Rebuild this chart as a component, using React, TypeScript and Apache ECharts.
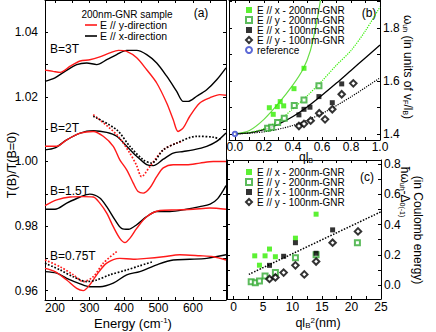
import React, { useEffect, useRef } from 'react';
import * as echarts from 'echarts';

const FONT = 'Liberation Sans, Arial, Helvetica, sans-serif';

// Panel (a): T(B)/T(B=0) spectra, [energy cm^-1, ratio]
const red3T = [[171,1.0283],[195,1.0279],[215,1.0276],[244,1.0295],[273,1.0311],[301,1.0315],[330,1.0324],[359,1.0336],[384,1.0344],[408,1.0341],[437,1.0321],[466,1.0284],[495,1.0243],[524,1.0181],[543,1.0129],[557,1.0093],[572,1.0104],[591,1.0140],[620,1.0181],[649,1.0197],[678,1.0207],[696,1.0205]];
const black3T = [[171,1.0248],[200,1.0259],[229,1.0279],[263,1.0300],[292,1.0305],[321,1.0300],[350,1.0315],[379,1.0331],[408,1.0344],[437,1.0344],[466,1.0331],[495,1.0305],[524,1.0264],[553,1.0217],[572,1.0186],[586,1.0186],[611,1.0202],[640,1.0222],[669,1.0253],[696,1.0290]];
const red2T = [[171,1.0047],[205,1.0047],[234,1.0067],[273,1.0088],[311,1.0093],[340,1.0078],[369,1.0047],[388,1.0005],[408,0.9974],[427,0.9933],[441,0.9907],[456,0.9902],[475,0.9918],[495,0.9953],[514,0.9980],[543,0.9990],[582,0.9990],[620,0.9995],[659,1.0000],[696,1.0000]];
const black2T = [[171,1.0036],[200,1.0042],[234,1.0067],[273,1.0088],[311,1.0095],[350,1.0090],[379,1.0078],[408,1.0047],[437,1.0016],[466,0.9990],[485,0.9987],[514,1.0007],[543,1.0026],[572,1.0031],[601,1.0036],[640,1.0047],[669,1.0062],[696,1.0088]];
const red2TFit = [[311,1.0145],[379,1.0083],[417,1.0026],[437,0.9987],[451,0.9953],[475,0.9984],[514,1.0036],[553,1.0057],[567,1.0062]];
const black2TFit = [[311,1.0140],[379,1.0098],[417,1.0047],[456,1.0005],[480,0.9995],[514,1.0036],[553,1.0057],[611,1.0078],[660,1.0075],[680,1.0068]];
const red15T = [[171,0.9863],[205,0.9881],[244,0.9890],[282,0.9891],[311,0.9890],[330,0.9871],[350,0.9840],[369,0.9798],[388,0.9762],[403,0.9749],[417,0.9762],[437,0.9793],[466,0.9829],[504,0.9848],[553,0.9850],[601,0.9852],[649,0.9856],[696,0.9852]];
const black15T = [[171,0.9852],[200,0.9852],[234,0.9871],[273,0.9890],[301,0.9899],[330,0.9887],[350,0.9860],[374,0.9819],[393,0.9793],[413,0.9790],[437,0.9804],[466,0.9829],[495,0.9845],[533,0.9845],[582,0.9852],[620,0.9860],[650,0.9868],[672,0.9885],[696,0.9925]];
const red075T = [[171,0.9669],[200,0.9659],[234,0.9633],[263,0.9607],[282,0.9600],[301,0.9618],[321,0.9649],[350,0.9685],[388,0.9700],[427,0.9697],[466,0.9700],[514,0.9705],[562,0.9711],[620,0.9708],[659,0.9705],[696,0.9695]];
const black075T = [[171,0.9659],[205,0.9654],[234,0.9638],[273,0.9621],[301,0.9612],[330,0.9612],[369,0.9623],[408,0.9649],[446,0.9659],[495,0.9680],[543,0.9695],[591,0.9697],[640,0.9700],[696,0.9711]];
const red075TFit = [[171,0.9695],[215,0.9674],[253,0.9649],[282,0.9628],[311,0.9643],[340,0.9685],[379,0.9721]];
const black075TFit = [[171,0.9685],[215,0.9664],[253,0.9643],[292,0.9628],[321,0.9633],[359,0.9649],[408,0.9664],[446,0.9677],[485,0.9690]];

// Panel (b): omega_uh vs q l_B
const bX200 = [[0.237,1.499],[0.264,1.474],[0.292,1.503],[0.312,1.522],[0.336,1.506],[0.407,1.571],[0.476,1.648]];
const bY200 = [[0.225,1.421],[0.253,1.425],[0.294,1.443],[0.340,1.459],[0.409,1.507],[0.476,1.528],[0.579,1.582]];
const bX100 = [[0.441,1.472],[0.476,1.493],[0.517,1.501],[0.579,1.541],[0.671,1.518],[0.736,1.589]];
const bY100 = [[0.441,1.430],[0.476,1.438],[0.522,1.450],[0.581,1.478],[0.621,1.455],[0.671,1.493],[0.736,1.550],[0.816,1.591]];
const bRef = [[0,1.4]];
const bFitGreenSolid = [[0,1.4],[0.1,1.413],[0.2,1.455],[0.3,1.515],[0.4,1.585],[0.47,1.645],[0.52,1.715],[0.555,1.8],[0.585,1.89],[0.6,1.95]];
const bFitGreenDotted = [[0,1.4],[0.1,1.405],[0.2,1.42],[0.3,1.45],[0.4,1.495],[0.5,1.545],[0.6,1.6],[0.7,1.66],[0.8,1.715],[0.9,1.79],[1.0,1.88]];
const bFitBlackSolid = [[0,1.4],[0.1,1.404],[0.2,1.416],[0.3,1.437],[0.4,1.466],[0.5,1.503],[0.6,1.546],[0.7,1.592],[0.8,1.64],[0.9,1.688],[1.0,1.736]];
const bFitBlackDotted = [[0,1.4],[0.2,1.408],[0.4,1.432],[0.6,1.477],[0.8,1.54],[1.0,1.612]];

// Panel (c): hbar omega_uh - Delta vs q l_B^2
const cX200 = [[3.6,0.193],[4.4,0.131],[5.35,0.193],[6.1,0.238],[7.1,0.187],[10.5,0.31],[14.0,0.469]];
const cY200 = [[3.0,0.022],[3.7,0.015],[4.4,0.027],[5.35,0.06],[7.1,0.082],[10.5,0.18],[14.0,0.2],[21.0,0.28]];
const cX100 = [[6.1,0.13],[8.5,0.19],[10.5,0.28],[14.0,0.21],[16.8,0.365]];
const cY100 = [[6.1,0.04],[7.1,0.05],[8.5,0.082],[10.5,0.13],[12.0,0.07],[14.0,0.155],[16.8,0.28],[21.1,0.355]];
const cFit = [[2.6,0.07],[25,0.485]];

// tick labels
const aXTicks = [200, 300, 400, 500, 600];
const aYTicks = [0.96, 0.98, 1.0, 1.02, 1.04];
const bXTicks = [0, 0.2, 0.4, 0.6, 0.8, 1.0];
const bYTicks = [1.4, 1.6, 1.8];
const cXTicks = [0, 5, 10, 15, 20, 25];
const cYTicks = [0, 0.2, 0.4, 0.6, 0.8];

const N1 = 'E // x - 200nm-GNR';
const N2 = 'E // y - 200nm-GNR';
const N3 = 'E // x - 100nm-GNR';
const N4 = 'E // y - 100nm-GNR';
const N5 = 'reference';

const RED = '#ff1a1a';
const GREEN = '#33ee00';
const GREEN_HOLLOW = '#33aa33';
const GREEN_LINE = '#66dd44';

function steps(a: number, b: number, s: number) {
  const out: number[] = [];
  for (let v = a; v <= b + 1e-9; v += s) out.push(Math.round(v * 1000) / 1000);
  return out;
}

function baseAxis(extra: any) {
  return {
    type: 'value',
    splitLine: { show: false },
    axisLine: { show: true, onZero: false, lineStyle: { color: '#000', width: 1 } },
    ...extra,
  };
}

export default function App() {
  const ref = useRef<HTMLDivElement>(null);
  useEffect(() => {
    document.body.style.margin = '0';
    const chart = echarts.init(ref.current!, null, { renderer: 'svg' });
    const lbl = { fontSize: 12, color: '#000', fontFamily: FONT };
    const tick = (vals: number[]) => ({ show: true, inside: true, length: 3, customValues: vals, lineStyle: { color: '#000' } });

    const xAxis = [
      baseAxis({ gridIndex: 0, position: 'bottom', min: 171, max: 696,
        axisTick: tick(steps(200, 650, 50)),
        axisLabel: { ...lbl, margin: 2, customValues: aXTicks, formatter: (v: number) => String(v) } }),
      baseAxis({ gridIndex: 0, position: 'top', min: 171, max: 696, axisTick: tick(steps(200, 650, 50)), axisLabel: { show: false } }),
      baseAxis({ gridIndex: 1, position: 'bottom', min: -0.041, max: 1.0,
        axisTick: tick(steps(0, 1, 0.1)),
        axisLabel: { ...lbl, margin: 1, customValues: bXTicks, formatter: (v: number) => v.toFixed(1) } }),
      baseAxis({ gridIndex: 1, position: 'top', min: -0.041, max: 1.0, axisTick: tick(steps(0, 1, 0.1)), axisLabel: { show: false } }),
      baseAxis({ gridIndex: 2, position: 'bottom', min: -1.1, max: 25,
        axisTick: tick(steps(0, 25, 2.5)),
        axisLabel: { ...lbl, margin: 2, customValues: cXTicks, formatter: (v: number) => String(v) } }),
      baseAxis({ gridIndex: 2, position: 'top', min: -1.1, max: 25, axisTick: tick(steps(0, 25, 2.5)), axisLabel: { show: false } }),
    ];
    const yAxis = [
      baseAxis({ gridIndex: 0, position: 'left', min: 0.9571, max: 1.05,
        axisTick: tick(steps(0.96, 1.05, 0.01)),
        axisLabel: { ...lbl, margin: 7, customValues: aYTicks, formatter: (v: number) => v.toFixed(2) } }),
      baseAxis({ gridIndex: 0, position: 'right', min: 0.9571, max: 1.05, axisTick: tick(steps(0.96, 1.05, 0.01)), axisLabel: { show: false } }),
      baseAxis({ gridIndex: 1, position: 'right', min: 1.377, max: 1.906,
        axisTick: tick(steps(1.4, 1.9, 0.1)),
        axisLabel: { ...lbl, margin: 3, customValues: bYTicks, formatter: (v: number) => v.toFixed(1) } }),
      baseAxis({ gridIndex: 1, position: 'left', min: 1.377, max: 1.906, axisTick: tick(steps(1.4, 1.9, 0.1)), axisLabel: { show: false } }),
      baseAxis({ gridIndex: 2, position: 'right', min: -0.093, max: 0.828,
        axisTick: tick(steps(0, 0.8, 0.1)),
        axisLabel: { ...lbl, margin: 3, customValues: cYTicks, formatter: (v: number) => v.toFixed(1) } }),
      baseAxis({ gridIndex: 2, position: 'left', min: -0.093, max: 0.828, axisTick: tick(steps(0, 0.8, 0.1)), axisLabel: { show: false } }),
    ];

    const line = (data: number[][], color: string, dotted: boolean, xi: number, yi: number, width?: number) => ({
      type: 'line', data, xAxisIndex: xi, yAxisIndex: yi, showSymbol: false, smooth: 0.3, silent: true,
      lineStyle: { color, width: width ?? (dotted ? 1.7 : 1.4), type: dotted ? 'dotted' : 'solid' },
      z: dotted ? 3 : 2,
    });
    const scatter = (name: string, data: number[][], symbol: string, color: string, size: number, xi: number, yi: number) => ({
      type: 'scatter', name, data, xAxisIndex: xi, yAxisIndex: yi, symbol, symbolSize: size, silent: true,
      itemStyle: { color, borderColor: color, borderWidth: symbol.startsWith('empty') ? 1 : 0 }, z: 5,
    });

    const series = [
      line(black3T, '#000', false, 0, 0), line(red3T, RED, false, 0, 0),
      line(black2T, '#000', false, 0, 0), line(red2T, RED, false, 0, 0),
      line(red2TFit, RED, true, 0, 0), line(black2TFit, '#000', true, 0, 0),
      line(black15T, '#000', false, 0, 0), line(red15T, RED, false, 0, 0),
      line(black075T, '#000', false, 0, 0), line(red075T, RED, false, 0, 0),
      line(red075TFit, RED, true, 0, 0), line(black075TFit, '#000', true, 0, 0),

      line(bFitGreenSolid, GREEN_LINE, false, 2, 2, 1.2),
      line(bFitGreenDotted, GREEN, true, 2, 2, 1.2),
      line(bFitBlackSolid, '#000', false, 2, 2, 1.3),
      line(bFitBlackDotted, '#000', true, 2, 2, 1.2),
      scatter(N1, bX200, 'rect', GREEN, 5, 2, 2),
      scatter(N2, bY200, 'emptyRect', GREEN_HOLLOW, 5, 2, 2),
      scatter(N3, bX100, 'rect', '#000', 5, 2, 2),
      scatter(N4, bY100, 'emptyDiamond', '#000', 6.5, 2, 2),
      scatter(N5, bRef, 'emptyCircle', '#3344cc', 4.5, 2, 2),

      line(cFit, '#000', true, 4, 4, 1.5),
      scatter(N1, cX200, 'rect', GREEN, 5, 4, 4),
      scatter(N2, cY200, 'emptyRect', GREEN_HOLLOW, 5, 4, 4),
      scatter(N3, cX100, 'rect', '#000', 5, 4, 4),
      scatter(N4, cY100, 'emptyDiamond', '#000', 6.5, 4, 4),
    ];

    const legendBase = {
      orient: 'vertical', itemWidth: 6, itemHeight: 6, itemGap: 0, padding: 0,
      textStyle: { fontSize: 10, lineHeight: 9, color: '#000', fontFamily: FONT },
      selectedMode: false,
    };

    const txt = (text: string, x: number, y: number, size: number, extra: any = {}) => ({
      type: 'text', x, y, silent: true,
      style: { text, fontSize: size, fontFamily: FONT, fill: '#000', align: 'center', verticalAlign: 'middle', ...extra },
    });
    const rich = (n: number) => ({
      n: { fontSize: n, fontFamily: FONT, fill: '#000', lineHeight: n + 1 },
      s: { fontSize: Math.round(n * 0.62), fontFamily: FONT, fill: '#000', verticalAlign: 'bottom', lineHeight: n + 1 },
      p: { fontSize: Math.round(n * 0.62), fontFamily: FONT, fill: '#000', verticalAlign: 'top', lineHeight: n + 1 },
    });

    const graphic = [
      txt('200nm-GNR sample', 127, 14, 10),
      { type: 'line', silent: true, shape: { x1: 85, y1: 25, x2: 97, y2: 25 }, style: { stroke: RED, lineWidth: 1.6 } },
      { type: 'line', silent: true, shape: { x1: 85, y1: 36, x2: 97, y2: 36 }, style: { stroke: '#000', lineWidth: 1.6 } },
      txt('E // y-direction', 100, 25, 10.5, { align: 'left' }),
      txt('E // x-direction', 100, 36, 10.5, { align: 'left' }),
      txt('(a)', 201, 13, 12),
      txt('(b)', 369, 13, 12),
      txt('(c)', 367, 177, 12),
      txt('B=3T', 50, 49, 12, { align: 'left' }),
      txt('B=2T', 50, 128, 12, { align: 'left' }),
      txt('B=1.5T', 50, 191, 12, { align: 'left' }),
      txt('B=0.75T', 50, 256, 12, { align: 'left' }),
      { ...txt('T(B)/T(B=0)', 12, 165, 12.5), rotation: Math.PI / 2 },
      txt('', 133, 323, 13, { text: '{n|Energy (cm}{p|-1}{n|)}', rich: rich(13) }),
      txt('', 306, 157, 12, { text: '{n|ql}{s|B}', rich: rich(12) }),
      txt('', 318, 323, 12.5, { text: '{n|ql}{s|B}{p|2}{n|(nm)}', rich: rich(12.5) }),
      { ...txt('', 408, 67, 12, { text: '{n|ω}{s|uh}{n| (in units of v}{s|F}{n|/l}{s|B}{n|)}', rich: rich(12) }), rotation: -Math.PI / 2 },
      { ...txt('', 405, 192, 12, { text: '{n|ħω}{s|uh}{n|-Δ}{s|0(-1)}', rich: rich(12) }), rotation: -Math.PI / 2 },
      { ...txt('(in Coulomb energy)', 418, 230, 12), rotation: -Math.PI / 2 },
    ];

    chart.setOption({
      animation: false,
      backgroundColor: '#fff',
      textStyle: { fontFamily: FONT },
      grid: [
        { left: 45, top: 0, width: 181, height: 300 },
        { left: 229, top: 0, width: 151, height: 140 },
        { left: 227, top: 160, width: 154, height: 139 },
      ],
      xAxis, yAxis, series,
      legend: [
        { ...legendBase, data: [N1, N2, N3, N4, N5], left: 245, top: 5 },
        { ...legendBase, data: [N1, N2, N3, N4], left: 245, top: 167 },
      ],
      graphic,
    });
    return () => chart.dispose();
  }, []);
  return <div ref={ref} style={{ width: 436, height: 332, position: 'fixed', left: 0, top: 0 }} />;
}
